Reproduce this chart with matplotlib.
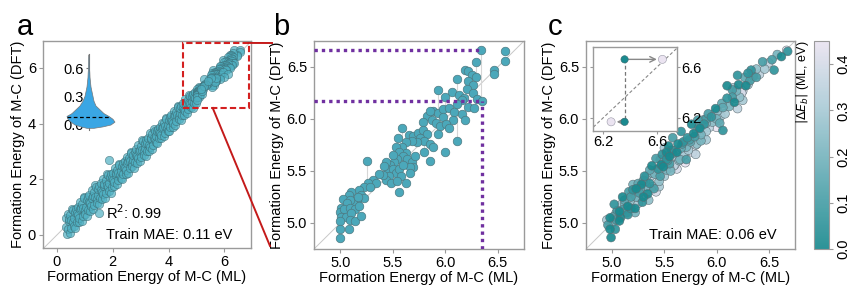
import numpy as np
import matplotlib
matplotlib.use("Agg")
import matplotlib.pyplot as plt
from matplotlib.colors import LinearSegmentedColormap
from matplotlib.patches import Rectangle, Polygon
from matplotlib.lines import Line2D

plt.rcParams['font.family'] = ['Liberation Sans', 'DejaVu Sans']

# ---------------- data ----------------
# panel b (zoomed region, ML vs DFT)
bx = [6.34, 6.57, 6.57, 6.46, 6.46, 6.29, 6.19, 6.22, 6.25, 6.29, 6.11, 6.22, 6.26, 6.21, 5.93, 6.06,
      6.00, 6.13, 6.18, 6.26, 6.30, 6.35, 6.16, 6.22, 6.27, 6.11, 5.88, 5.93, 5.98, 6.04, 6.08, 6.16,
      5.98, 6.07, 6.19, 5.83, 5.85, 5.87, 5.91, 5.95, 6.01, 6.04, 5.79, 5.59, 5.55, 5.65, 5.69, 5.74,
      5.79, 5.83, 5.76, 5.80, 5.85, 5.73, 5.68, 5.88, 5.80, 5.93, 6.11, 6.00, 5.85, 5.63, 5.59, 5.63,
      5.53, 5.56, 5.60, 5.64, 5.68, 5.69, 5.54, 5.51, 5.47, 5.44, 5.45, 5.50, 5.53, 5.56, 5.58, 5.46,
      5.44, 5.48, 5.54, 5.63, 5.56, 5.66, 5.41, 5.37, 5.25, 5.31, 5.34, 5.26, 5.23, 5.18, 5.20, 5.23,
      5.16, 5.12, 5.10, 5.08, 5.03, 5.09, 5.06, 5.01, 5.00, 5.04, 5.09, 5.14, 5.01, 5.05, 5.10, 5.09,
      5.14, 5.00, 5.08, 5.00, 5.00, 5.20, 5.18, 5.28, 5.17, 5.60, 5.66, 5.71, 5.50, 5.42]
by = [6.66, 6.65, 6.56, 6.47, 6.43, 6.55, 6.47, 6.46, 6.42, 6.40, 6.38, 6.37, 6.33, 6.29, 6.28, 6.26,
      6.21, 6.23, 6.20, 6.25, 6.19, 6.17, 6.18, 6.12, 6.11, 6.14, 6.08, 6.06, 6.10, 6.11, 6.07, 6.05,
      6.02, 5.99, 5.99, 6.03, 6.08, 5.99, 5.96, 5.93, 5.95, 5.91, 5.97, 5.91, 5.82, 5.85, 5.84, 5.87,
      5.89, 5.86, 5.82, 5.79, 5.76, 5.78, 5.79, 5.73, 5.68, 5.86, 5.79, 5.68, 5.60, 5.78, 5.73, 5.67,
      5.73, 5.68, 5.64, 5.62, 5.59, 5.54, 5.62, 5.59, 5.56, 5.59, 5.51, 5.52, 5.48, 5.52, 5.45, 5.45,
      5.41, 5.38, 5.40, 5.38, 5.30, 5.54, 5.46, 5.47, 5.60, 5.41, 5.38, 5.38, 5.35, 5.32, 5.27, 5.24,
      5.22, 5.19, 5.30, 5.27, 5.23, 5.22, 5.19, 5.14, 5.11, 5.13, 5.14, 5.13, 5.06, 5.06, 5.10, 5.03,
      5.02, 5.02, 4.94, 4.94, 4.86, 5.07, 5.16, 5.35, 5.25, 5.56, 5.48, 5.64, 5.65, 5.55]
# grey connectors in panel b: (x, y_top, y_bottom)
b_links = [(6.34, 6.66, 6.18), (6.11, 6.38, 5.79), (5.93, 6.28, 6.08), (5.59, 5.91, 5.73),
           (5.25, 5.60, 5.41), (6.29, 6.55, 6.40), (6.00, 6.21, 6.02), (5.80, 5.79, 5.68),
           (5.10, 5.30, 5.19), (6.46, 6.47, 6.43)]
# highlighted pair
hl_x = 6.35
hl_y = [6.66, 6.17]

# panel a, lower part of the training band (upper part shares panel b points)
a_low_x = [0.32, 0.34, 0.36, 0.38, 0.40, 0.42, 0.44, 0.46, 0.48, 0.50, 0.52, 0.54, 0.56, 0.58, 0.60,
           0.62, 0.64, 0.66, 0.68, 0.70, 0.72, 0.74, 0.76, 0.78, 0.80, 0.82, 0.84, 0.86, 0.88, 0.90,
           0.92, 0.94, 0.96, 0.98, 1.00, 1.02, 1.04, 1.06, 1.08, 1.10, 1.12, 1.14, 1.16, 1.18, 1.20,
           1.22, 1.24, 1.26, 1.28, 1.30, 1.32, 1.34, 1.36, 1.38, 1.40, 1.42, 1.44, 1.46, 1.48, 1.50,
           1.52, 1.54, 1.56, 1.58, 1.60, 1.62, 1.64, 1.66, 1.68, 1.70, 1.72, 1.74, 1.76, 1.78, 1.80,
           1.82, 1.84, 1.86, 1.88, 1.90, 1.92, 1.94, 1.96, 1.98, 2.00, 2.02, 2.04, 2.06, 2.08, 2.10,
           2.12, 2.14, 2.16, 2.18, 2.20, 2.22, 2.24, 2.26, 2.28, 2.30, 2.32, 2.34, 2.36, 2.38, 2.40,
           2.42, 2.44, 2.46, 2.48, 2.50, 2.52, 2.54, 2.56, 2.58, 2.60, 2.62, 2.64, 2.66, 2.68, 2.70,
           2.72, 2.74, 2.76, 2.78, 2.80, 2.82, 2.84, 2.86, 2.88, 2.90, 2.92, 2.94, 2.96, 2.98, 3.00,
           3.02, 3.04, 3.06, 3.08, 3.10, 3.12, 3.14, 3.16, 3.18, 3.20, 3.22, 3.24, 3.26, 3.28, 3.30,
           3.32, 3.34, 3.36, 3.38, 3.40, 3.42, 3.44, 3.46, 3.48, 3.50, 3.52, 3.54, 3.56, 3.58, 3.60,
           3.62, 3.64, 3.66, 3.68, 3.70, 3.72, 3.74, 3.76, 3.78, 3.80, 3.82, 3.84, 3.86, 3.88, 3.90,
           3.92, 3.94, 3.96, 3.98, 4.00, 4.02, 4.04, 4.06, 4.08, 4.10, 4.12, 4.14, 4.16, 4.18, 4.20,
           4.22, 4.24, 4.26, 4.28, 4.30, 4.32, 4.34, 4.36, 4.38, 4.40, 4.42, 4.44, 4.46, 4.48, 4.50,
           4.52, 4.54, 4.56, 4.58, 4.60, 4.62, 4.64, 4.66, 4.68, 4.70, 4.72, 4.74, 4.76, 4.78, 4.80,
           4.82, 4.84, 4.86, 4.88, 4.90, 4.92, 4.94, 4.96, 4.98, 1.86, 1.51]
a_low_y = [0.60, 0.29, 0.03, 0.20, 0.76, 0.50, 0.56, 0.08, 0.70, 0.25, 0.54, 0.94, 0.89, 0.46, 0.32,
           0.60, 0.82, 0.26, 0.93, 0.48, 0.78, 1.02, 0.71, 0.45, 0.62, 1.18, 0.92, 0.98, 0.50, 1.12,
           0.67, 0.96, 1.36, 1.31, 0.88, 0.74, 1.02, 1.24, 0.68, 1.35, 0.90, 1.20, 1.44, 1.13, 0.87,
           1.04, 1.60, 1.34, 1.40, 0.92, 1.54, 1.09, 1.38, 1.78, 1.73, 1.30, 1.16, 1.44, 1.66, 1.10,
           1.77, 1.32, 1.62, 1.86, 1.55, 1.29, 1.46, 2.02, 1.76, 1.82, 1.34, 1.96, 1.51, 1.80, 2.20,
           2.15, 1.72, 1.58, 1.86, 2.08, 1.52, 2.19, 1.74, 2.04, 2.24, 1.98, 1.76, 1.91, 2.39, 2.17,
           2.22, 1.82, 2.35, 1.97, 2.22, 2.56, 2.52, 2.16, 2.04, 2.28, 2.47, 2.00, 2.57, 2.19, 2.45,
           2.66, 2.40, 2.18, 2.33, 2.81, 2.59, 2.64, 2.24, 2.77, 2.39, 2.64, 2.98, 2.94, 2.58, 2.46,
           2.70, 2.89, 2.42, 2.99, 2.61, 2.87, 3.08, 2.82, 2.60, 2.75, 3.23, 3.01, 3.06, 2.66, 3.19,
           2.81, 3.06, 3.40, 3.36, 3.00, 2.88, 3.12, 3.31, 2.84, 3.41, 3.03, 3.29, 3.50, 3.24, 3.02,
           3.17, 3.65, 3.43, 3.48, 3.08, 3.61, 3.23, 3.48, 3.82, 3.75, 3.43, 3.33, 3.54, 3.72, 3.30,
           3.81, 3.47, 3.71, 3.89, 3.66, 3.47, 3.60, 4.03, 3.84, 3.89, 3.54, 4.01, 3.67, 3.90, 4.20,
           4.17, 3.85, 3.75, 3.96, 4.14, 3.72, 4.23, 3.89, 4.13, 4.31, 4.08, 3.89, 4.02, 4.45, 4.26,
           4.31, 3.96, 4.43, 4.09, 4.32, 4.62, 4.59, 4.27, 4.17, 4.38, 4.56, 4.14, 4.65, 4.31, 4.55,
           4.73, 4.50, 4.31, 4.44, 4.87, 4.68, 4.73, 4.38, 4.85, 4.51, 4.74, 5.04, 5.01, 4.69, 4.59,
           4.80, 4.98, 4.56, 5.07, 4.73, 4.97, 5.15, 4.92, 4.73, 2.70, 0.79]

# violin outline in panel a inset (value levels, left / right half widths)
v_levels = [-0.035, -0.02, 0.0, 0.03, 0.06, 0.09, 0.12, 0.16, 0.20, 0.25, 0.30, 0.35, 0.40, 0.45,
            0.50, 0.55, 0.60, 0.65, 0.70, 0.74]
v_left = [2, 8, 14, 18, 21, 22, 17, 13, 9, 6, 4, 3, 2, 1.5, 1, 0.8, 0.5, 0.4, 0.3, 0]
v_right = [5, 14, 22, 26, 24, 20, 15, 11, 7, 5, 4, 3, 2, 1.5, 1, 0.8, 0.5, 0.4, 0.3, 0]
v_median = 0.08

# panel c (ML vs DFT coloured by |dE_b|)
cx = [6.67, 6.68, 6.53, 6.55, 6.46, 6.41, 6.35, 6.30, 6.32, 6.28, 6.19, 6.22, 6.25, 6.15, 6.17, 6.06,
      6.01, 5.98, 5.95, 5.90, 6.00, 6.04, 6.03, 5.90, 5.84, 5.81, 5.79, 5.87, 5.77, 5.81, 5.74, 5.71,
      5.68, 5.63, 5.66, 5.61, 5.58, 5.55, 5.61, 5.65, 5.68, 5.52, 5.55, 5.49, 5.46, 5.42, 5.49, 5.52,
      5.55, 5.60, 5.42, 5.38, 5.36, 5.46, 5.33, 5.30, 5.36, 5.39, 5.42, 5.33, 5.28, 5.25, 5.23, 5.20,
      5.20, 5.26, 5.30, 5.23, 5.18, 5.17, 5.15, 5.12, 5.09, 5.11, 5.07, 5.04, 5.14, 5.18, 5.01, 4.98,
      4.95, 5.04, 5.07, 5.03, 4.98, 4.99, 5.22, 5.25, 5.52, 6.06, 5.71, 6.16, 6.25, 6.38, 5.87, 5.93,
      5.85, 5.50,
      5.05, 5.08, 5.12, 5.15, 5.19, 5.22, 5.27, 5.29, 5.32, 5.34, 5.37, 5.40, 5.41, 5.44, 5.45, 5.47,
      5.50, 5.53, 5.56, 5.57, 5.59, 5.62, 5.64, 5.67, 5.69, 5.72, 5.73, 5.75, 5.78, 5.80, 5.83, 5.85,
      5.88, 5.90, 5.92, 5.96, 5.99, 6.02, 6.05, 6.08, 6.10, 6.12, 6.15, 6.18, 6.21, 6.24, 6.27, 6.30,
      6.33, 6.38, 6.44, 6.50, 6.58, 6.62, 5.00, 4.96, 5.02, 5.10, 5.16, 5.25, 5.31, 5.38, 5.48, 5.54,
      5.58, 5.66, 5.76, 5.82, 6.10, 6.20, 5.62, 5.70, 5.80, 5.90, 6.00, 6.20, 5.45, 5.35]
cy = [6.66, 6.65, 6.57, 6.47, 6.48, 6.43, 6.41, 6.44, 6.37, 6.32, 6.27, 6.21, 6.18, 6.21, 6.16, 6.11,
      6.08, 6.05, 6.02, 6.00, 6.00, 6.03, 5.96, 5.96, 5.91, 5.88, 5.83, 5.84, 5.68, 5.76, 5.80, 5.73,
      5.78, 5.76, 5.72, 5.70, 5.67, 5.64, 5.64, 5.61, 5.65, 5.61, 5.57, 5.59, 5.61, 5.62, 5.54, 5.51,
      5.53, 5.56, 5.51, 5.48, 5.51, 5.45, 5.45, 5.41, 5.38, 5.35, 5.30, 5.35, 5.37, 5.38, 5.33, 5.32,
      5.37, 5.29, 5.25, 5.25, 5.25, 5.21, 5.16, 5.22, 5.18, 5.13, 5.11, 5.10, 5.10, 5.14, 5.06, 5.05,
      5.03, 5.03, 5.02, 4.94, 4.94, 4.86, 5.10, 5.19, 5.68, 5.89, 5.61, 6.30, 6.27, 6.40, 5.99, 5.92,
      5.79, 5.72,
      5.12, 5.05, 5.18, 5.08, 5.28, 5.14, 5.33, 5.20, 5.40, 5.28, 5.45, 5.33, 5.47, 5.52, 5.40, 5.56,
      5.45, 5.60, 5.50, 5.70, 5.55, 5.68, 5.60, 5.76, 5.66, 5.82, 5.70, 5.78, 5.86, 5.75, 5.92, 5.85,
      5.95, 5.88, 6.05, 5.97, 6.10, 5.99, 6.15, 6.05, 6.20, 6.12, 6.28, 6.20, 6.33, 6.25, 6.40, 6.33,
      6.47, 6.48, 6.55, 6.54, 6.62, 6.60, 5.00, 4.98, 5.18, 5.25, 5.30, 5.25, 5.45, 5.55, 5.66, 5.74,
      5.82, 5.88, 5.95, 5.99, 6.32, 6.42, 5.52, 5.58, 5.66, 5.80, 5.92, 6.10, 5.35, 5.22]
ce = [0.45, 0.05, 0.10, 0.05, 0.30, 0.35, 0.10, 0.05, 0.10, 0.00, 0.20, 0.25, 0.30, 0.10, 0.00, 0.15,
      0.25, 0.35, 0.05, 0.10, 0.20, 0.30, 0.15, 0.20, 0.00, 0.30, 0.10, 0.40, 0.45, 0.25, 0.10, 0.20,
      0.05, 0.00, 0.15, 0.30, 0.10, 0.00, 0.35, 0.20, 0.30, 0.05, 0.10, 0.25, 0.15, 0.10, 0.00, 0.20,
      0.35, 0.40, 0.30, 0.20, 0.15, 0.10, 0.25, 0.10, 0.05, 0.30, 0.40, 0.20, 0.00, 0.15, 0.00, 0.05,
      0.20, 0.10, 0.00, 0.20, 0.10, 0.25, 0.00, 0.15, 0.30, 0.10, 0.00, 0.20, 0.10, 0.05, 0.15, 0.00,
      0.30, 0.10, 0.00, 0.05, 0.00, 0.00, 0.20, 0.30, 0.00, 0.05, 0.10, 0.30, 0.40, 0.10, 0.15, 0.35,
      0.20, 0.30,
      0.10, 0.00, 0.20, 0.05, 0.30, 0.00, 0.15, 0.05, 0.20, 0.00, 0.35, 0.10, 0.20, 0.05, 0.25, 0.00,
      0.30, 0.10, 0.20, 0.05, 0.35, 0.00, 0.25, 0.10, 0.40, 0.05, 0.30, 0.15, 0.00, 0.35, 0.10, 0.20,
      0.05, 0.30, 0.10, 0.25, 0.00, 0.35, 0.15, 0.30, 0.05, 0.20, 0.10, 0.35, 0.00, 0.40, 0.15, 0.30,
      0.05, 0.25, 0.10, 0.35, 0.20, 0.00, 0.20, 0.10, 0.05, 0.00, 0.10, 0.25, 0.05, 0.00, 0.05, 0.00,
      0.10, 0.05, 0.00, 0.10, 0.00, 0.05, 0.40, 0.45, 0.35, 0.30, 0.45, 0.35, 0.30, 0.25]
# inset of panel c: original (teal) and shifted (lavender) predictions
ins_teal_x = [6.36, 6.36]
ins_teal_y = [6.66, 6.17]
ins_lav_x = [6.64, 6.26]
ins_lav_y = [6.66, 6.17]

# ---------------- styling ----------------
cmap = LinearSegmentedColormap.from_list('tealpurple', ['#1a8a8f', '#5ea9b2', '#a8cad5', '#ebe4f1'])
CMAX = 0.45
spine_c = '#9a9a9a'
tick_fs = 10.5
lab_fs = 10.5

fig = plt.figure(figsize=(8.56, 2.85), dpi=100)

def style_axes(ax):
    for s in ax.spines.values():
        s.set_color(spine_c)
        s.set_linewidth(1.0)
    ax.tick_params(colors=spine_c, labelcolor='black', labelsize=tick_fs, length=3, width=0.8, pad=2)

# ---------- panel a ----------
axa = fig.add_axes([43/856, 1-248/285, 208/856, 207/285])
style_axes(axa)
axa.set_xlim(-0.5, 6.95)
axa.set_ylim(-0.47, 6.97)
axa.plot([-0.5, 6.95], [-0.5, 6.95], color='#c8c8c8', lw=0.7, zorder=1)
ax_all_x = a_low_x + bx
ax_all_y = a_low_y + by
axa.scatter(ax_all_x, ax_all_y, s=36, facecolor='#4fb0c2', edgecolor='#3c6c75', linewidth=0.5,
            alpha=0.7, zorder=2)
axa.set_xticks([0, 2, 4, 6])
axa.set_yticks([0, 2, 4, 6])
axa.set_xlabel('Formation Energy of M-C (ML)', fontsize=lab_fs, labelpad=1)
axa.set_ylabel('Formation Energy of M-C (DFT)', fontsize=lab_fs, labelpad=2)
axa.text(1.76, 0.79, r'R$^2$: 0.99', fontsize=lab_fs, va='center', ha='left')
axa.text(1.76, 0.0, 'Train MAE: 0.11 eV', fontsize=lab_fs, va='center', ha='left')
axa.add_patch(Rectangle((4.5, 4.56), 2.37, 2.34, fill=False, edgecolor='#d42020', lw=1.5,
                        linestyle=(0, (3, 1.5)), zorder=5))
axa.text(-0.087, 1.068, 'a', transform=axa.transAxes, fontsize=21, ha='center', va='center')

# violin inset
axv = fig.add_axes([60/856, 1-129.75/285, 88/856, 76/285])
axv.set_xlim(-29, 59)
axv.set_ylim(-0.05, 0.75)
axv.patch.set_alpha(0)
for k in ['top', 'right', 'bottom']:
    axv.spines[k].set_visible(False)
axv.spines['left'].set_position(('data', 0))
axv.spines['left'].set_color('#777777')
axv.spines['left'].set_linewidth(0.8)
axv.set_xticks([])
axv.set_yticks([0.0, 0.3, 0.6])
axv.set_yticklabels(['0.0', '0.3', '0.6'])
axv.tick_params(axis='y', colors='#777777', labelcolor='black', labelsize=tick_fs, length=2.5, pad=1)
poly = [(-w, v) for w, v in zip(v_left, v_levels)] + [(w, v) for w, v in zip(v_right[::-1], v_levels[::-1])]
axv.add_patch(Polygon(poly, closed=True, facecolor='#3aa6e4', edgecolor='#777777', lw=0.5, zorder=3))
mi = int(np.argmin(np.abs(np.array(v_levels) - v_median)))
axv.plot([-v_left[mi], v_right[mi]], [v_median, v_median], color='black', lw=0.9, ls=(0, (3, 2)), zorder=4)

# ---------- panel b ----------
axb = fig.add_axes([314/856, 1-249/285, 210/856, 208/285])
style_axes(axb)
axb.set_xlim(4.75, 6.75)
axb.set_ylim(4.75, 6.75)
axb.plot([4.75, 6.75], [4.75, 6.75], color='#c8c8c8', lw=0.7, zorder=1)
for (lx, y0, y1) in b_links:
    axb.plot([lx, lx], [y0, y1], color='#d6d6d6', lw=0.8, zorder=1.5)
axb.scatter(bx, by, s=38, facecolor='#4ba8ba', edgecolor='#4d7a82', linewidth=0.5, zorder=3)
pc = '#7030a0'
dot = (0, (1, 1.2))
axb.plot([4.75, hl_x], [hl_y[0], hl_y[0]], color=pc, lw=2.4, ls=dot, zorder=4)
axb.plot([4.75, hl_x], [hl_y[1], hl_y[1]], color=pc, lw=2.4, ls=dot, zorder=4)
axb.plot([hl_x, hl_x], [4.75, hl_y[1]], color=pc, lw=2.4, ls=dot, zorder=4)
axb.set_xticks([5.0, 5.5, 6.0, 6.5])
axb.set_yticks([5.0, 5.5, 6.0, 6.5])
axb.set_xlabel('Formation Energy of M-C (ML)', fontsize=lab_fs, labelpad=1)
axb.set_ylabel('Formation Energy of M-C (DFT)', fontsize=lab_fs, labelpad=2)
axb.text(-0.157, 1.068, 'b', transform=axb.transAxes, fontsize=21, ha='center', va='center')

# red connectors from box in a to panel b
p_top = fig.transFigure.inverted().transform(axa.transData.transform((6.87, 6.9)))
p_bot = fig.transFigure.inverted().transform(axa.transData.transform((5.58, 4.56)))
fig.add_artist(Line2D([p_top[0], 272/856], [p_top[1], 1-43/285], color='#c41a1a', lw=1.4,
                      transform=fig.transFigure))
fig.add_artist(Line2D([p_bot[0], 270/856], [p_bot[1], 1-246/285], color='#c41a1a', lw=1.4,
                      transform=fig.transFigure))

# ---------- panel c ----------
axc = fig.add_axes([586/856, 1-249/285, 209/856, 208/285])
style_axes(axc)
axc.set_xlim(4.75, 6.75)
axc.set_ylim(4.75, 6.75)
axc.plot([4.75, 6.75], [4.75, 6.75], color='#c8c8c8', lw=0.7, zorder=1)
order = np.argsort(ce)[::-1]
sc = axc.scatter(np.array(cx)[order], np.array(cy)[order], c=np.array(ce)[order], cmap=cmap,
                 vmin=0, vmax=CMAX, s=40, edgecolor='#5a6a70', linewidth=0.4, alpha=0.92, zorder=3)
axc.set_xticks([5.0, 5.5, 6.0, 6.5])
axc.set_yticks([5.0, 5.5, 6.0, 6.5])
axc.set_xlabel('Formation Energy of M-C (ML)', fontsize=lab_fs, labelpad=1)
axc.set_ylabel('Formation Energy of M-C (DFT)', fontsize=lab_fs, labelpad=2)
axc.text(5.35, 4.885, 'Train MAE: 0.06 eV', fontsize=lab_fs, va='center', ha='left', zorder=5)
axc.text(-0.148, 1.068, 'c', transform=axc.transAxes, fontsize=21, ha='center', va='center')

# colorbar
cax = fig.add_axes([814/856, 1-249/285, 15/856, 208/285])
cb = fig.colorbar(sc, cax=cax)
cb.outline.set_edgecolor(spine_c)
cb.set_ticks([0.0, 0.1, 0.2, 0.3, 0.4])
cax.tick_params(colors=spine_c, labelcolor='black', labelsize=tick_fs, length=3, pad=2)
for t in cax.get_yticklabels():
    t.set_rotation(90)
    t.set_va('center')
cax.text(-0.75, 1.0, r'$|\Delta E_b|$ (ML, eV)', transform=cax.transAxes, rotation=90,
         ha='center', va='top', fontsize=9)

# inset in c
axi = fig.add_axes([593/856, 1-131/285, 84/856, 84/285])
style_axes(axi)
axi.set_xlim(6.126, 6.748)
axi.set_ylim(6.098, 6.757)
axi.plot([6.098, 6.757], [6.098, 6.757], color='#888888', lw=0.8, ls=(0, (3, 2)), zorder=1)
axi.plot(ins_teal_x, ins_teal_y, color='#777777', lw=0.9, ls=(0, (3, 2)), zorder=2)
for x0, y0, x1, y1 in zip(ins_teal_x, ins_teal_y, ins_lav_x, ins_lav_y):
    axi.annotate('', xy=(x1, y1), xytext=(x0, y0),
                 arrowprops=dict(arrowstyle='->', color='#888888', lw=1.0, shrinkA=3, shrinkB=4))
axi.scatter(ins_teal_x, ins_teal_y, s=28, c=[0.0, 0.0], cmap=cmap, vmin=0, vmax=CMAX,
            edgecolor='#3a6a70', linewidth=0.4, zorder=3)
axi.scatter(ins_lav_x, ins_lav_y, s=34, c=[CMAX, CMAX], cmap=cmap, vmin=0, vmax=CMAX,
            edgecolor='#9a9aa8', linewidth=0.4, zorder=3)
axi.set_xticks([6.2, 6.6])
axi.set_yticks([6.2, 6.6])
axi.yaxis.tick_right()
axi.tick_params(axis='y', left=True, right=True, labelleft=False, labelright=True)
axi.tick_params(length=2, pad=1)

fig.savefig('out.png', dpi=100)
